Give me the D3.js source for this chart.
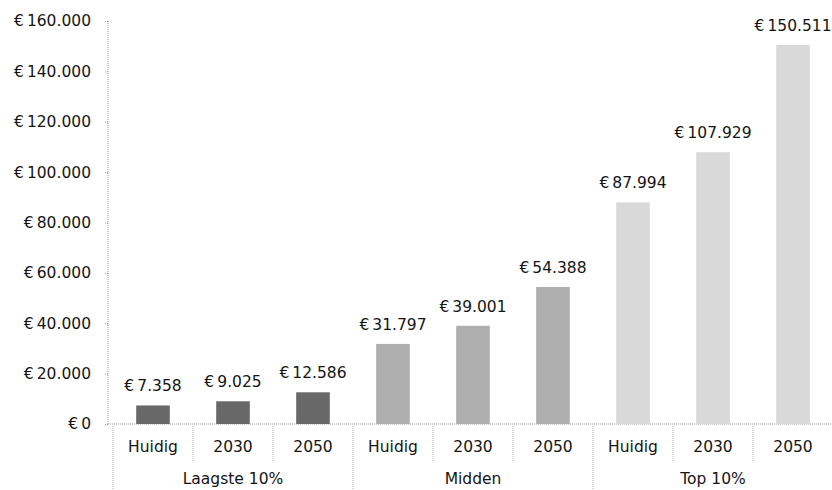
<!DOCTYPE html>
<html lang="nl">
<head>
    <meta charset="utf-8">
    <title>Inkomen per groep</title>
    <style>
        body {
            margin:0;
            background:white;
        }
        .chart text {
            font:15.5px "DejaVu Sans", sans-serif;
            fill:#151515;
        }
        .axis path, .axis line {
            stroke:#9a9a9a;
            stroke-dasharray:1,1;
        }
    </style>
</head>
<body>
    <svg class="chart"></svg>
<script src="https://cdnjs.cloudflare.com/ajax/libs/d3/7.8.5/d3.min.js"></script>
<script>
    // data
    var groups = ["Laagste 10%", "Midden", "Top 10%"];
    var periods = ["Huidig", "2030", "2050"];
    var laagste = [7358, 9025, 12586];
    var midden = [31797, 39001, 54388];
    var top10 = [87994, 107929, 150511];
    var yTicks = [0, 20000, 40000, 60000, 80000, 100000, 120000, 140000, 160000];
    var groupColors = ["#686868", "#afafaf", "#d9d9d9"];

    var width = 832, height = 490;
    var margin = {top:21, left:113, right:-1, bottom:66};

    // flatten into one row per bar
    var series = [laagste, midden, top10];
    var rows = [];
    series.forEach(function(vals, g){
        vals.forEach(function(v, p){
            rows.push({group:g, period:periods[p], value:v, key:g + "-" + p});
        });
    });

    // dutch money format, thin space after the euro sign
    var nl = d3.formatLocale({decimal:",", thousands:".", grouping:[3], currency:["€\u2009", ""]});
    var euro = nl.format("$,.0f");

    var svg = d3.select(".chart")
        .attr("width", width)
        .attr("height", height);

    var y = d3.scaleLinear()
        .domain([0, 160000])
        .range([height - margin.bottom, margin.top]);

    var x = d3.scaleBand()
        .domain(rows.map(function(d){ return d.key; }))
        .range([margin.left, width - margin.right]);

    var barWidth = x.bandwidth() * 0.42;
    var baseY = y(0);

    // y axis
    var yAxis = svg.append("g")
        .attr("class", "axis")
        .attr("transform", "translate(" + (margin.left - 5) + ",0)")
        .call(d3.axisLeft(y).tickValues(yTicks).tickSize(4).tickPadding(13).tickFormat(euro));
    yAxis.select(".domain").attr("d", "M0," + y(160000) + "V" + baseY);

    // baseline
    svg.append("line")
        .attr("x1", margin.left - 5).attr("x2", width)
        .attr("y1", baseY).attr("y2", baseY)
        .attr("stroke", "#9a9a9a")
        .attr("stroke-dasharray", "1,1");

    // bars
    svg.selectAll(".bar")
        .data(rows)
      .enter().append("rect")
        .attr("class", "bar")
        .attr("x", function(d){ return x(d.key) + (x.bandwidth() - barWidth) / 2; })
        .attr("width", barWidth)
        .attr("y", function(d){ return y(d.value); })
        .attr("height", function(d){ return baseY - y(d.value); })
        .attr("fill", function(d){ return groupColors[d.group]; });

    // value labels
    svg.selectAll(".value")
        .data(rows)
      .enter().append("text")
        .attr("class", "value")
        .attr("text-anchor", "middle")
        .attr("x", function(d){ return x(d.key) + x.bandwidth() / 2; })
        .attr("y", function(d){ return y(d.value) - 14; })
        .text(function(d){ return euro(d.value); });

    // category labels
    var xAxis = svg.append("g")
        .attr("transform", "translate(0," + baseY + ")")
        .call(d3.axisBottom(x).tickSize(0).tickPadding(17)
            .tickFormat(function(k){ return periods[+k.split("-")[1]]; }));
    xAxis.select(".domain").remove();

    // dividers: short ones between periods, long ones between groups
    var step = x.step();
    rows.forEach(function(d, i){
        var first = i % 3 === 0;
        svg.append("line")
            .attr("x1", x(d.key)).attr("x2", x(d.key))
            .attr("y1", baseY + 2)
            .attr("y2", first ? height : baseY + 38)
            .attr("stroke", "#b5b5b5")
            .attr("stroke-dasharray", "1,1");
    });

    // group labels
    svg.selectAll(".group")
        .data(groups)
      .enter().append("text")
        .attr("class", "group")
        .attr("text-anchor", "middle")
        .attr("x", function(d, g){ return x(g + "-1") + step / 2; })
        .attr("y", baseY + 60)
        .text(function(d){ return d; });
</script>
</body>
</html>
